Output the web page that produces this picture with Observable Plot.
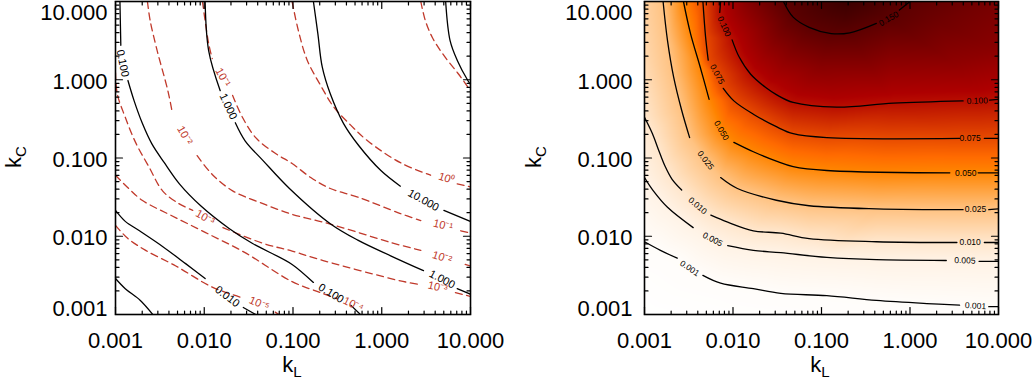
<!DOCTYPE html>
<html><head><meta charset="utf-8">
<script src="https://cdn.jsdelivr.net/npm/d3@7"></script>
<script src="https://cdn.jsdelivr.net/npm/@observablehq/plot@0.6"></script>
<style>
body{margin:0;background:#fff;}
#wrap{display:flex;width:1036px;height:378px;}
</style></head><body><div id="wrap"></div>
<script>
// ---------- data (points are [log10 kL, log10 kC]; a third entry marks a contour label) ----------
const tickValues = [0.001, 0.01, 0.1, 1, 10];
const tickLabels = ["0.001", "0.010", "0.100", "1.000", "10.000"];

// left panel, solid black contours (0.001 … 100)
const leftSolid = [
  [[-3,-2.54],[-2.89,-2.67],[-2.72,-2.82],[-2.58,-3]],
  [[-3,-1.67],[-2.89,-1.81],[-2.73,-1.93],[-2.47,-2.13],[-2.21,-2.35],[-1.99,-2.54],[-1.74,-2.77,"0.010"],[-1.56,-2.91],[-1.42,-3]],
  [[-2.95,1],[-2.94,0.44],[-2.92,0.21,"0.100"],[-2.86,-0.01],[-2.79,-0.27],[-2.70,-0.55],[-2.59,-0.82],[-2.45,-1.06],[-2.28,-1.33],[-2.04,-1.61],[-1.72,-1.90],[-1.46,-2.09],[-1.01,-2.36],[-0.77,-2.59],[-0.57,-2.73,"0.100"],[-0.35,-2.88],[-0.24,-3]],
  [[-1.99,1],[-1.95,0.37],[-1.82,-0.14],[-1.73,-0.34,"1.000"],[-1.65,-0.55],[-1.54,-0.78],[-1.34,-1.03],[-1.04,-1.39],[-0.58,-1.84],[-0.27,-2.05],[0.10,-2.25],[0.47,-2.44],[0.68,-2.55,"1.000"],[0.85,-2.67],[1,-2.74]],
  [[-0.77,1],[-0.72,0.59],[-0.67,0.16],[-0.58,-0.18],[-0.43,-0.56],[-0.26,-0.84],[-0.01,-1.16],[0.21,-1.36],[0.47,-1.54,"10.000"],[0.70,-1.67],[1,-1.81]],
  [[0.72,1],[0.77,0.50],[0.85,0.25],[0.97,-0.01],[1,-0.06]]
];
// left panel, red dashed contours (10^1 … 10^-5)
const leftDashed = [
  [[0.44,1],[0.49,0.76],[0.57,0.54],[0.70,0.31],[0.86,0.08],[1,-0.14]],
  [[-1.01,1],[-0.94,0.63],[-0.84,0.25],[-0.69,-0.07],[-0.54,-0.35],[-0.35,-0.58],[-0.16,-0.78],[0.21,-1.06],[0.55,-1.22],[0.73,-1.26,"10⁰"],[0.85,-1.33],[1,-1.37]],
  [[-2.02,1],[-1.95,0.46],[-1.91,0.27],[-1.79,0.03,"10⁻¹"],[-1.68,-0.20],[-1.57,-0.48],[-1.42,-0.74],[-1.20,-0.94],[-1.01,-1.07],[-0.80,-1.25],[-0.58,-1.39],[-0.27,-1.50],[0.21,-1.71],[0.44,-1.80],[0.69,-1.86,"10⁻¹"],[0.89,-1.93],[1,-1.96]],
  [[-2.64,1],[-2.61,0.76],[-2.53,0.37],[-2.41,-0.14],[-2.36,-0.42],[-2.22,-0.71,"10⁻²"],[-2.08,-0.97],[-1.91,-1.21],[-1.68,-1.42],[-1.37,-1.57],[-1.01,-1.72],[-0.66,-1.82],[-0.27,-1.95],[0.10,-2.08],[0.44,-2.18],[0.68,-2.27,"10⁻²"],[0.94,-2.36],[1,-2.38]],
  [[-3,0.09],[-2.98,-0.18],[-2.89,-0.48],[-2.77,-0.81],[-2.62,-1.12],[-2.47,-1.42],[-2.29,-1.58],[-2.13,-1.67],[-1.99,-1.76,"10⁻³"],[-1.79,-1.89],[-1.34,-2.09],[-1.01,-2.19],[-0.66,-2.31],[0.21,-2.57],[0.44,-2.62],[0.63,-2.65,"10⁻³"],[0.83,-2.72],[1,-2.77]],
  [[-3,-1.22],[-2.86,-1.38],[-2.70,-1.54],[-2.38,-1.73],[-1.99,-1.95],[-1.54,-2.21],[-1.01,-2.58],[-0.69,-2.72],[-0.50,-2.80],[-0.32,-2.87,"10⁻⁴"],[-0.13,-3]],
  [[-3,-1.86],[-2.86,-2.03],[-2.66,-2.18],[-2.32,-2.38],[-1.91,-2.65],[-1.59,-2.78],[-1.38,-2.86,"10⁻⁵"],[-1.20,-2.97],[-1.16,-3]]
];

// right panel contour levels and lines
const rightLevels = [0.001, 0.005, 0.010, 0.025, 0.050, 0.075, 0.100, 0.150];
const rightLines = [
  [[-3,-2.07],[-2.82,-2.18],[-2.63,-2.28],[-2.49,-2.41,"0.001"],[-2.34,-2.50],[-2.14,-2.60],[-1.77,-2.67],[-1.46,-2.73],[-0.94,-2.76],[-0.38,-2.82],[0.19,-2.86],[0.56,-2.88],[0.74,-2.89,"0.001"],[0.89,-2.90],[1,-2.90]],
  [[-3,-1.25],[-2.90,-1.42],[-2.74,-1.63],[-2.45,-1.89],[-2.23,-2.04,"0.005"],[-2.06,-2.12],[-1.77,-2.18],[-1.46,-2.21],[-0.94,-2.27],[-0.38,-2.30],[0.41,-2.31],[0.62,-2.31,"0.005"],[0.78,-2.32],[1,-2.32]],
  [[-3,-0.48],[-2.91,-0.69],[-2.84,-0.90],[-2.77,-1.10],[-2.69,-1.27],[-2.58,-1.41],[-2.40,-1.61,"0.010"],[-2.25,-1.73],[-2.06,-1.82],[-1.77,-1.93],[-1.46,-1.96],[-1.14,-2.03],[-0.38,-2.07],[0.53,-2.08],[0.68,-2.08,"0.010"],[0.84,-2.08],[1,-2.08]],
  [[-2.79,1],[-2.74,0.50],[-2.67,0.03],[-2.58,-0.39],[-2.49,-0.74],[-2.31,-1.03,"0.025"],[-2.14,-1.25],[-1.95,-1.39],[-1.51,-1.54],[-1.14,-1.61],[-0.38,-1.65],[0.60,-1.66],[0.74,-1.66,"0.025"],[0.89,-1.66],[1,-1.65]],
  [[-2.56,1],[-2.48,0.59],[-2.37,0.16],[-2.27,-0.25],[-2.13,-0.65,"0.050"],[-1.99,-0.80],[-1.77,-0.92],[-1.51,-1.04],[-1.32,-1.11],[-0.94,-1.16],[0.45,-1.19],[0.63,-1.19,"0.050"],[0.77,-1.19],[1,-1.19]],
  [[-2.34,1],[-2.31,0.55],[-2.28,0.25],[-2.18,0.07,"0.075"],[-2.11,-0.11],[-1.99,-0.27],[-1.77,-0.44],[-1.51,-0.60],[-1.32,-0.69],[-0.94,-0.74],[0.56,-0.75],[0.68,-0.75,"0.075"],[0.84,-0.75],[1,-0.75]],
  [[-2.14,1],[-2.15,0.86],[-2.10,0.68,"0.100"],[-2.01,0.51],[-1.93,0.29],[-1.80,0.07],[-1.63,-0.10],[-1.51,-0.19],[-1.32,-0.29],[-0.83,-0.35],[-0.19,-0.30],[0.60,-0.27],[0.76,-0.27,"0.100"],[0.90,-0.26],[1,-0.25]],
  [[-1.43,1],[-1.32,0.80],[-1.14,0.67],[-0.89,0.59],[-0.68,0.60],[-0.38,0.72],[-0.24,0.78,"0.150"],[-0.12,0.89],[-0.01,0.99]]
];
// right panel: values read at a few places away from the contour lines [log10 kL, log10 kC, value]
const rightExtra = [
  [-3,1,0.019],[-3,0.3,0.016],[-3,-3,0],[-3,-2.6,0.0004],[-2,-3,0.0004],[-1,-3,0.0006],[1,-3,0.0007],
  [-0.72,1,0.168],[-0.72,0.8,0.16],[1,1,0.135],[0.3,0.75,0.14],[-1.8,1,0.13],[-1.0,0.2,0.128],[0.5,0.2,0.122],[1,0.4,0.125]
];

// ---------- drawing ----------
const W = 518, H = 378, MT = 1, MB = 64;
const RED = "#c0392b";
const FONT = "Liberation Sans";

function scalesFor(ml, mr) {
  const sx = Plot.scale({x: {type: "log", domain: [1e-3, 10], range: [ml, W - mr]}});
  const sy = Plot.scale({y: {type: "log", domain: [1e-3, 10], range: [H - MB, MT]}});
  return [v => sx.apply(v), v => sy.apply(v)];
}

function build(lines, sx, sy, valueOf) {
  const pts = [], labels = [], samples = [];
  lines.forEach((line, li) => {
    line.forEach((p, i) => {
      const x = 10 ** p[0], y = 10 ** p[1];
      if (valueOf) samples.push({x, y, v: valueOf(li)});
      if (p.length === 3) {
        const a = line[i - 1], b = line[i + 1];
        let ang = Math.atan2(sy(10 ** b[1]) - sy(10 ** a[1]), sx(10 ** b[0]) - sx(10 ** a[0])) * 180 / Math.PI;
        if (ang > 90) ang -= 180;
        if (ang < -90) ang += 180;
        labels.push({x, y, text: p[2], rotate: ang});
        pts.push({x: NaN, y: NaN, line: li});
      } else {
        pts.push({x, y, line: li});
      }
    });
  });
  return {pts, labels, samples};
}

const shapeTick = {draw(ctx, l) { ctx.moveTo(0, 0); ctx.lineTo(0, -l); }};
const allTicks = d3.scaleLog().domain([1e-3, 10]).ticks();
const majors = allTicks.filter(d => Math.abs(Math.log10(d) - Math.round(Math.log10(d))) < 1e-9);
const minors = allTicks.filter(d => !majors.includes(d));

function frameMarks(yLabelGap) {
  const m = [];
  for (const [ticks, len] of [[majors, 7], [minors, 3.5]]) {
    const o = {length: len, anchor: "start", shape: shapeTick, stroke: "black", strokeWidth: 1.2};
    m.push(Plot.vector(ticks, {...o, x: d => d, frameAnchor: "bottom", rotate: 0}));
    m.push(Plot.vector(ticks, {...o, x: d => d, frameAnchor: "top", rotate: 180}));
    m.push(Plot.vector(ticks, {...o, y: d => d, frameAnchor: "left", rotate: 90}));
    m.push(Plot.vector(ticks, {...o, y: d => d, frameAnchor: "right", rotate: -90}));
  }
  m.push(Plot.frame({stroke: "black", strokeWidth: 1.6}));
  const txt = {text: d => tickLabels[tickValues.indexOf(d)], fontSize: 22, fill: "black", fontFamily: FONT};
  m.push(Plot.text(tickValues, {...txt, x: d => d, frameAnchor: "bottom", lineAnchor: "top", dy: 18}));
  const yo = {...txt, y: d => d, frameAnchor: "left", textAnchor: "end", dx: -yLabelGap};
  m.push(Plot.text(tickValues.slice(1, -1), {...yo, dy: 2}));
  m.push(Plot.text(tickValues.slice(0, 1), {...yo, dy: -6}));
  m.push(Plot.text(tickValues.slice(-1), {...yo, dy: 11}));
  return m;
}

function addAxisTitles(svg, kcX, klX) {
  const s = d3.select(svg);
  const t1 = s.append("text").attr("transform", `translate(${kcX},157) rotate(-90)`)
    .attr("text-anchor", "middle").attr("font-family", FONT).attr("font-size", 22).attr("fill", "black");
  t1.append("tspan").text("k");
  t1.append("tspan").attr("dy", 5).attr("font-size", 15).text("C");
  const t2 = s.append("text").attr("transform", `translate(${klX},372)`)
    .attr("text-anchor", "middle").attr("font-family", FONT).attr("font-size", 22).attr("fill", "black");
  t2.append("tspan").text("k");
  t2.append("tspan").attr("dy", 5).attr("font-size", 15).text("L");
}

function plotBase(ml, mr, marks, extra = {}) {
  return Plot.plot({
    width: W, height: H, marginLeft: ml, marginRight: mr, marginTop: MT, marginBottom: MB,
    x: {type: "log", domain: [1e-3, 10], axis: null},
    y: {type: "log", domain: [1e-3, 10], axis: null},
    style: {fontFamily: FONT, background: "white", overflow: "visible"},
    marks, ...extra
  });
}

// ----- left panel -----
{
  const ML = 115, MR = 48;
  const [sx, sy] = scalesFor(ML, MR);
  const solid = build(leftSolid, sx, sy);
  const dashed = build(leftDashed, sx, sy);
  const svg = plotBase(ML, MR, [
    Plot.line(dashed.pts, {x: "x", y: "y", z: "line", stroke: RED, strokeWidth: 1.3, strokeDasharray: "7,4.5", curve: "catmull-rom", clip: true}),
    Plot.line(solid.pts, {x: "x", y: "y", z: "line", stroke: "black", strokeWidth: 1.3, curve: "catmull-rom", clip: true}),
    Plot.text(dashed.labels, {x: "x", y: "y", text: "text", rotate: "rotate", fill: RED, fontSize: 11}),
    Plot.text(solid.labels, {x: "x", y: "y", text: "text", rotate: "rotate", fill: "black", fontSize: 11}),
    ...frameMarks(8)
  ]);
  addAxisTitles(svg, 21, 292);
  document.getElementById("wrap").appendChild(svg);
}

// ----- right panel -----
{
  const ML = 126, MR = 38;
  const [sx, sy] = scalesFor(ML, MR);
  const r = build(rightLines, sx, sy, li => rightLevels[li]);
  const samples = r.samples.concat(rightExtra.map(([a, b, v]) => ({x: 10 ** a, y: 10 ** b, v})));
  // IDL "red temperature" colour table, reversed
  const ct3r = t => {
    const i = 255 * (1 - t);
    const R = Math.min(255, i * 255 / 176), G = Math.max(0, (i - 120) * 255 / 135), B = Math.max(0, (i - 190) * 255 / 65);
    return `rgb(${Math.round(R)},${Math.round(Math.min(255, G))},${Math.round(Math.min(255, B))})`;
  };
  const svg = plotBase(ML, MR, [
    Plot.raster(samples, {x: "x", y: "y", fill: "v", interpolate: "barycentric", x1: 1e-3, x2: 10, y1: 1e-3, y2: 10}),
    Plot.line(r.pts, {x: "x", y: "y", z: "line", stroke: "black", strokeWidth: 1.3, curve: "catmull-rom", clip: true}),
    Plot.text(r.labels, {x: "x", y: "y", text: "text", rotate: "rotate", fill: "black", fontSize: 8.5}),
    ...frameMarks(12)
  ], {color: {type: "linear", domain: [0, 0.2], interpolate: () => ct3r, clamp: true}});
  addAxisTitles(svg, 23, 302);
  document.getElementById("wrap").appendChild(svg);
}
</script></body></html>
